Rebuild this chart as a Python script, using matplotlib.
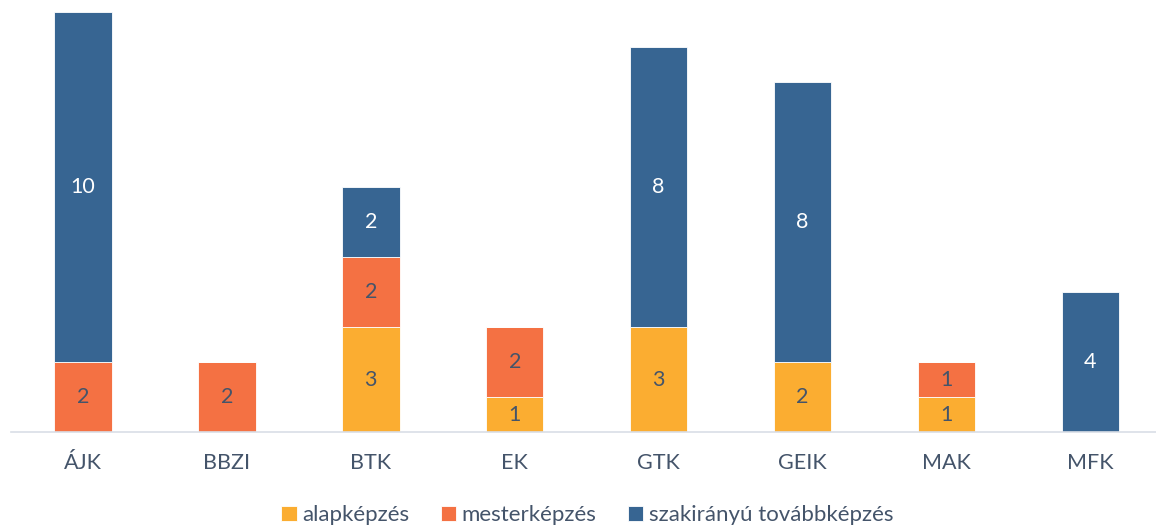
import matplotlib
matplotlib.use("Agg")
import matplotlib.pyplot as plt
import numpy as np

categories = ["ÁJK", "BBZI", "BTK", "EK", "GTK", "GEIK", "MAK", "MFK"]
series_names = ["alapképzés", "mesterképzés", "szakirányú továbbképzés"]
alap = [0, 0, 3, 1, 3, 2, 1, 0]
mester = [2, 2, 2, 2, 0, 0, 1, 0]
szak = [10, 0, 2, 0, 8, 8, 0, 4]

colors = ["#FBAD31", "#F47143", "#376592"]
label_colors = ["#44546A", "#44546A", "white"]

plt.rcParams['font.family'] = ['Lato', 'DejaVu Sans']

fig = plt.figure(figsize=(11.56, 5.27), dpi=100)
ax = fig.add_axes([0.0095, 0.18, 0.996, 0.797])

x = np.arange(len(categories))
bottom = np.zeros(len(categories))
handles = []
for vals, name, col, lc in zip([alap, mester, szak], series_names, colors, label_colors):
    v = np.array(vals, dtype=float)
    bars = ax.bar(x, v, 0.4, bottom=bottom, color=col, edgecolor="white", linewidth=0.6, label=name)
    handles.append(bars)
    for xi, vi, bi in zip(x, v, bottom):
        if vi > 0:
            ax.text(xi, bi + vi / 2, f"{int(vi)}", ha="center", va="center",
                    color=lc, fontsize=15.5)
    bottom += v

ax.set_xlim(-0.5, 7.5)
ax.set_ylim(0, 12)
ax.set_yticks([])
for s in ["top", "right", "left"]:
    ax.spines[s].set_visible(False)
ax.spines["bottom"].set_color("#D9DEE6")
ax.spines["bottom"].set_linewidth(1.2)
ax.set_xticks(x)
ax.set_xticklabels(categories, fontsize=15.5, color="#44546A")
ax.tick_params(axis="x", length=0, pad=15)

fig.legend(handles=handles, labels=series_names, loc="center", bbox_to_anchor=(0.508, 0.022),
           ncol=3, frameon=False, fontsize=16, handlelength=0.7, handleheight=0.7,
           handletextpad=0.25, columnspacing=1.4, labelcolor="#44546A")

fig.savefig("out.png", dpi=100)
